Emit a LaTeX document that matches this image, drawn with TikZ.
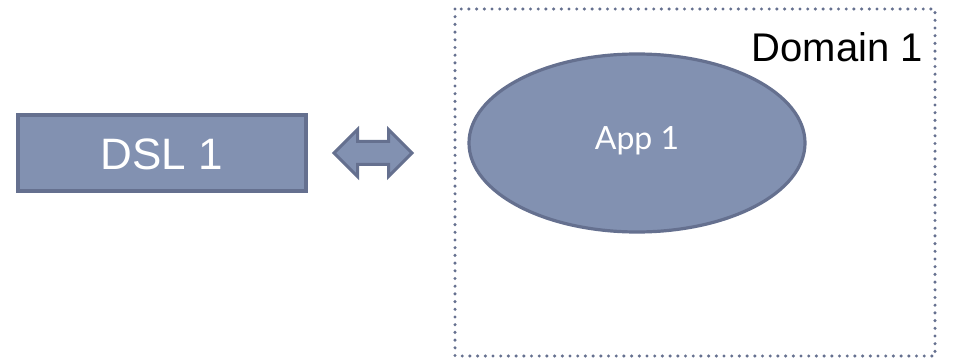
\documentclass[tikz,border=0pt]{standalone}
\usepackage{fontspec}
\setmainfont{Liberation Sans}
\newfontfamily\appfont{Lato}
\usetikzlibrary{shapes.geometric,shapes.arrows}
\definecolor{slatefill}{HTML}{8291B1}
\definecolor{slateline}{HTML}{65708F}
\tikzset{
  slate/.style={draw=slateline, fill=slatefill, line width=3.2pt},
  dsltext/.style={text=white, font=\fontsize{44}{48}\selectfont},
  apptext/.style={text=white, font=\appfont\fontsize{32}{36}\selectfont},
  domainbox/.style={draw=slateline, line width=3.4pt, line cap=round,
    dash pattern=on 0pt off 7.7pt},
}
\begin{document}
\begin{tikzpicture}[x=1pt,y=-1pt]
  \useasboundingbox[fill=white] (0,0) rectangle (963,358);
  % domain frame
  \draw[domainbox] (455,9) rectangle (935,356);
  \node[anchor=base east, font=\fontsize{40}{44}\selectfont, inner sep=0pt] (domain) at (923,62) {Domain 1};
  % application ellipse
  \node[slate, ellipse, minimum width=336pt, minimum height=178pt, inner sep=0pt] (app) at (637,143) {};
  \node[apptext, inner sep=0pt] (applabel) at (637,141) {App 1};
  % DSL box
  \node[slate, rectangle, minimum width=288pt, minimum height=76pt, inner sep=0pt] (dsl) at (162,153) {};
  \node[dsltext, inner sep=0pt] (dsllabel) at (162,154) {DSL 1};
  % bidirectional link
  \node[slate, double arrow, line width=3pt, minimum height=78pt, inner sep=10pt,
        double arrow head extend=12pt, double arrow tip angle=90] (link) at (373,153) {};
\end{tikzpicture}
\end{document}
